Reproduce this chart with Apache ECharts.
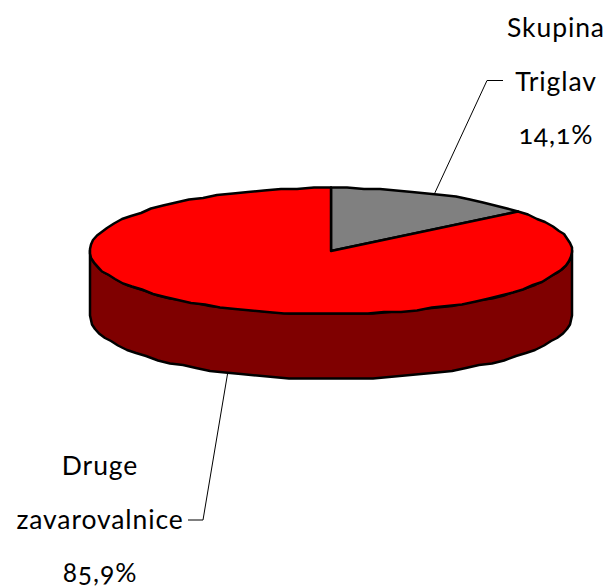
<!DOCTYPE html>
<html>
<head>
<meta charset="utf-8">
<style>
html, body { margin: 0; padding: 0; background: #fff; }
#chart { width: 609px; height: 587px; font-feature-settings: "onum" 1; letter-spacing: 0.9px; }
</style>
<script src="https://cdn.jsdelivr.net/npm/echarts@6/dist/echarts.min.js"></script>
</head>
<body>
<div id="chart"></div>
<script>
// podatki
var sliceNames = [["Skupina", "Triglav"], ["Druge", "zavarovalnice"]];
var sliceValues = [14.1, 85.9];
var sliceColors = ["#808080", "#ff0000"];
var wallColors = ["#404040", "#7f0000"];

// oblika "3D" torte
var cx = 331, cy = 251, rx = 241, ry = 63, depth = 65;
var fontName = "Lato";
var fontSize = 26.5;
var lineGap = 53.5;
// kolena in polozaj besedil
var elbows = [[487, 80.5, 503, 80.5], [203, 520, 188, 520]];
var labelPos = [[556, 27], [100, 465]];

var total = sliceValues[0] + sliceValues[1];

// tocka na robu elipse, kot je v stopinjah od vrha v smeri urinega kazalca
function edge(deg, dy) {
    var a = deg * Math.PI / 180;
    var x = cx + rx * Math.sin(a);
    var y = cy - ry * Math.cos(a);
    return [Math.round(x), Math.round(y / 1.5) * 1.5 + (dy || 0)];
}

function arc(from, to, dy) {
    var pts = [];
    var n = Math.max(1, Math.round(Math.abs(to - from) / 4));
    for (var i = 0; i <= n; i++) {
        pts.push(edge(from + (to - from) * i / n, dy));
    }
    return pts;
}

function renderSlice(params, api) {
    var idx = params.dataIndex;
    var start = api.value(1) / total * 360;
    var end = start + api.value(2) / total * 360;
    var mid = (start + end) / 2;
    var children = [];

    // stranska stena, vidna je samo spredaj
    var wFrom = Math.max(start, 90), wTo = Math.min(end, 270);
    if (wTo > wFrom) {
        var wall = arc(wFrom, wTo, 0).concat(arc(wTo, wFrom, depth));
        children.push({
            type: "polygon",
            shape: { points: wall },
            style: { fill: wallColors[idx], stroke: "#000", lineWidth: 2.5, lineJoin: "round" }
        });
    }

    // zgornja ploskev
    var top = [[cx, cy]].concat(arc(start, end, 0));
    children.push({
        type: "polygon",
        shape: { points: top },
        style: { fill: sliceColors[idx], stroke: "#000", lineWidth: 2.5, lineJoin: "round" }
    });

    // crta do oznake
    var a = mid * Math.PI / 180;
    var ax = cx + rx * Math.sin(a);
    var ay = cy - ry * Math.cos(a) + (mid > 90 && mid < 270 ? depth : 0);
    var el = elbows[idx];
    children.push({
        type: "polyline",
        shape: { points: [[ax, ay], [el[0], el[1]], [el[2], el[3]]] },
        style: { fill: null, stroke: "#000", lineWidth: 1 }
    });

    // oznake
    var lines = sliceNames[idx].concat([String(api.value(2)).replace(".", ",") + "%"]);
    lines.forEach(function(line, i) {
        children.push({
            type: "text",
            style: {
                text: line,
                x: labelPos[idx][0],
                y: labelPos[idx][1] + i * lineGap,
                align: "center",
                verticalAlign: "middle",
                fontFamily: fontName,
                fontSize: fontSize,
                fill: "#000"
            }
        });
    });

    return { type: "group", children: children };
}

var seriesData = [];
var running = 0;
for (var i = 0; i < sliceValues.length; i++) {
    seriesData.push([i, running, sliceValues[i]]);
    running += sliceValues[i];
}

var chart = echarts.init(document.getElementById("chart"), null, { renderer: "svg" });
chart.setOption({
    animation: false,
    backgroundColor: "#fff",
    series: [{
        type: "custom",
        coordinateSystem: "none",
        renderItem: renderSlice,
        data: seriesData
    }]
});
</script>
</body>
</html>
